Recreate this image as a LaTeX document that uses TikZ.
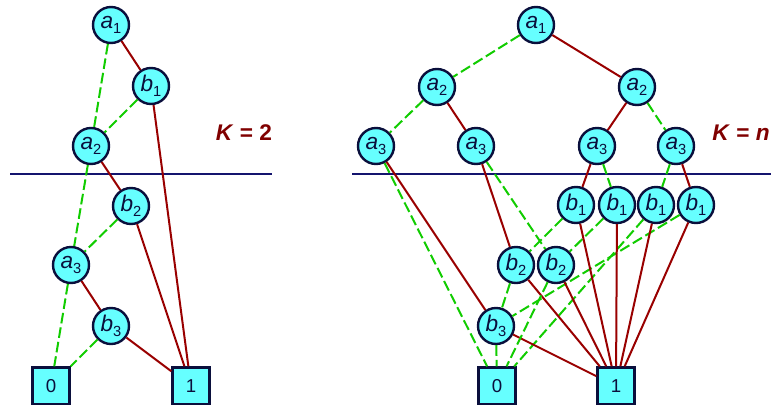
\documentclass[tikz,border=0pt]{standalone}
\usepackage{fontspec}
\setmainfont{Liberation Sans}

\definecolor{nodefill}{HTML}{66FFFF}
\definecolor{nodeline}{HTML}{0A0F3C}
\definecolor{hired}{HTML}{990000}
\definecolor{logreen}{HTML}{11CC00}
\definecolor{rulenavy}{HTML}{14146E}
\definecolor{klabel}{HTML}{800000}

% variable with index, e.g. \lv{a}{1}
\newcommand{\lv}[2]{\textit{#1}\raisebox{-0.4ex}{\fontsize{11}{12}\selectfont #2}}

\tikzset{
  var/.style={circle, draw=nodeline, fill=nodefill, line width=1.8pt,
    minimum size=27pt, inner sep=0pt, text=nodeline,
    font=\fontsize{17}{18}\selectfont},
  term/.style={rectangle, draw=nodeline, fill=nodefill, line width=2pt,
    minimum size=27.5pt, inner sep=0pt, text=nodeline,
    font=\fontsize{14}{16}\selectfont},
  hi/.style={draw=hired, line width=1.5pt},
  lo/.style={draw=logreen, line width=1.5pt, dash pattern=on 8pt off 3pt},
  cut/.style={draw=rulenavy, line width=1.6pt},
  klab/.style={text=klabel, font=\bfseries\fontsize{17}{18}\selectfont}
}

\begin{document}
\begin{tikzpicture}[x=0.75pt, y=-0.75pt]
  \useasboundingbox (0, 0) rectangle (771, 404);

  % K = 2
  \draw[cut] (10, 174)--(272, 174);
  \node[klab] (k2) at (244, 133) {\textit{K} = 2};

  \node[var] (la1) at (111, 25) {\lv{a}{1}};
  \node[var] (lb1) at (151, 86) {\lv{b}{1}};
  \node[var] (la2) at (91, 146) {\lv{a}{2}};
  \node[var] (lb2) at (131, 206) {\lv{b}{2}};
  \node[var] (la3) at (71, 265) {\lv{a}{3}};
  \node[var] (lb3) at (111, 326) {\lv{b}{3}};
  \node[term] (l0) at (51, 386) {0};
  \node[term] (l1) at (191, 386) {1};

  \draw[lo] (la1)--(la2);
  \draw[hi] (la1)--(lb1);
  \draw[lo] (lb1)--(la2);
  \draw[hi] (lb1)--(l1);
  \draw[lo] (la2)--(la3);
  \draw[hi] (la2)--(lb2);
  \draw[lo] (lb2)--(la3);
  \draw[hi] (lb2)--(l1);
  \draw[lo] (la3)--(l0);
  \draw[hi] (la3)--(lb3);
  \draw[lo] (lb3)--(l0);
  \draw[hi] (lb3)--(l1);

  % K = n
  \draw[cut] (352, 174)--(771, 174);
  \node[klab] (kn) at (741, 133) {\textit{K} = \textit{n}};

  \node[var] (ra1) at (536, 25) {\lv{a}{1}};
  \node[var] (ra2a) at (437, 87) {\lv{a}{2}};
  \node[var] (ra2b) at (637, 87) {\lv{a}{2}};
  \node[var] (ra3a) at (376, 146) {\lv{a}{3}};
  \node[var] (ra3b) at (476, 146) {\lv{a}{3}};
  \node[var] (ra3c) at (597, 146) {\lv{a}{3}};
  \node[var] (ra3d) at (676, 146) {\lv{a}{3}};
  \node[var] (rb1a) at (576, 205) {\lv{b}{1}};
  \node[var] (rb1b) at (617, 205) {\lv{b}{1}};
  \node[var] (rb1c) at (656, 205) {\lv{b}{1}};
  \node[var] (rb1d) at (696, 205) {\lv{b}{1}};
  \node[var] (rb2a) at (516, 265) {\lv{b}{2}};
  \node[var] (rb2b) at (556, 265) {\lv{b}{2}};
  \node[var] (rb3) at (496, 326) {\lv{b}{3}};
  \node[term] (r0) at (497, 386) {0};
  \node[term] (r1) at (616, 386) {1};

  \draw[lo] (ra1)--(ra2a);
  \draw[hi] (ra1)--(ra2b);
  \draw[lo] (ra2a)--(ra3a);
  \draw[hi] (ra2a)--(ra3b);
  \draw[hi] (ra2b)--(ra3c);
  \draw[lo] (ra2b)--(ra3d);

  \draw[lo] (ra3a)--(r0);
  \draw[hi] (ra3a)--(rb3);
  \draw[lo] (ra3b)--(rb2b);
  \draw[hi] (ra3b)--(rb2a);
  \draw[hi] (ra3c)--(rb1a);
  \draw[lo] (ra3c)--(rb1b);
  \draw[lo] (ra3d)--(rb1c);
  \draw[hi] (ra3d)--(rb1d);

  \draw[lo] (rb1a)--(rb2a);
  \draw[lo] (rb1b)--(rb2b);
  \draw[lo] (rb1c)--(r0);
  \draw[lo] (rb1d)--(rb3);
  \foreach \n in {rb1a, rb1b, rb1c, rb1d, rb2a, rb2b, rb3}
    \draw[hi] (\n)--(r1);
  \draw[lo] (rb2a)--(rb3);
  \draw[lo] (rb2b)--(r0);
  \draw[lo] (rb3)--(r0);
\end{tikzpicture}
\end{document}
